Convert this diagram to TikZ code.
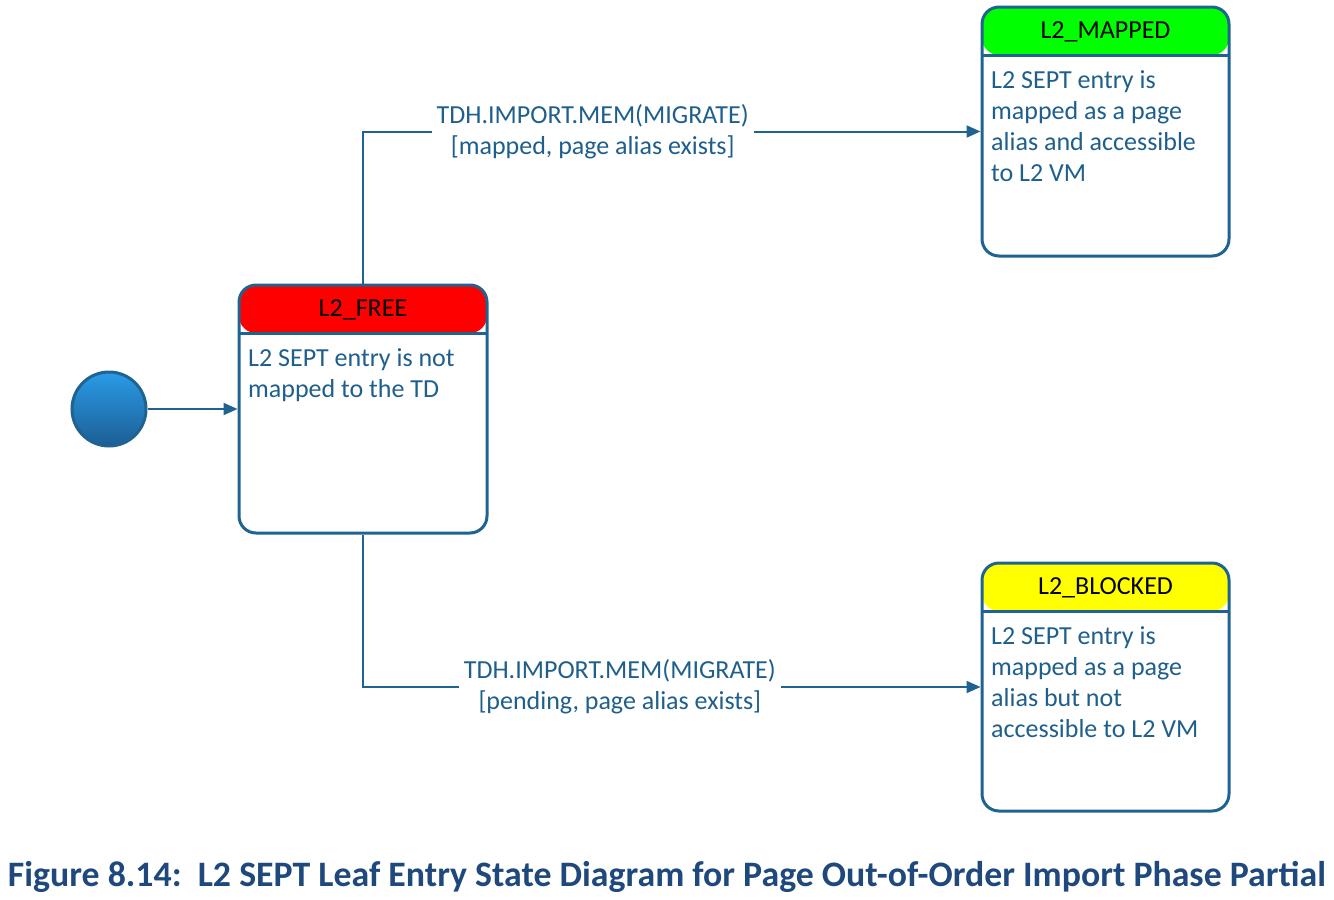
\documentclass[tikz,border=0pt]{standalone}
\usepackage{fontspec}
\setmainfont{Carlito}
\usetikzlibrary{arrows.meta}
\definecolor{lineblue}{HTML}{1F6391}
\definecolor{textblue}{HTML}{1F5F8C}
\definecolor{capblue}{HTML}{1F497D}
\definecolor{hdrred}{HTML}{FF0000}
\definecolor{hdrgreen}{HTML}{00FF00}
\definecolor{hdryellow}{HTML}{FFFF00}
\definecolor{initlight}{HTML}{2A9BE6}
\definecolor{initdark}{HTML}{1C5E95}
\tikzset{
  statebox/.style={draw=lineblue, line width=3pt, rounded corners=17pt, fill=white,
    minimum width=248pt, minimum height=248pt, inner sep=0pt,
    path picture={
      \fill[#1] (path picture bounding box.north west) rectangle ([yshift=-48pt]path picture bounding box.north east);
      \draw[lineblue, line width=3pt] ([yshift=-48pt]path picture bounding box.north west) -- ([yshift=-48pt]path picture bounding box.north east);
    }},
  hdr/.style={font=\fontsize{26}{30}\selectfont, text=black, inner sep=0pt},
  body/.style={font=\fontsize{26}{31}\selectfont, text=textblue, inner sep=0pt, align=left, anchor=north west},
  conn/.style={draw=lineblue, line width=2pt, -{Triangle[length=14pt,width=12pt]}},
  lbl/.style={font=\fontsize{26}{31}\selectfont, text=textblue, fill=white, align=center, inner sep=5pt},
  initstate/.style={circle, draw=lineblue, line width=3pt, minimum size=74pt, inner sep=0pt,
    top color=initlight, bottom color=initdark}
}
\begin{document}
\begin{tikzpicture}[x=1pt, y=-1pt]
\useasboundingbox (0,0) rectangle (1334,900);

\node[initstate] (init) at (109,409) {};

\node[statebox=hdrred] (free) at (363,409) {};
\node[hdr] (freeh) at (363,310) {L2\_FREE};
\node[body] (freeb) at (248,348) {L2 SEPT entry is not\\mapped to the TD};

\node[statebox=hdrgreen, minimum width=247pt, minimum height=249pt] (mapped) at (1105.5,131.5) {};
\node[hdr] (mappedh) at (1105.5,32) {L2\_MAPPED};
\node[body] (mappedb) at (991,70) {L2 SEPT entry is\\mapped as a page\\alias and accessible\\to L2 VM};

\node[statebox=hdryellow, minimum width=247pt] (blocked) at (1105.5,687) {};
\node[hdr] (blockedh) at (1105.5,588) {L2\_BLOCKED};
\node[body] (blockedb) at (991,626) {L2 SEPT entry is\\mapped as a page\\alias but not\\accessible to L2 VM};

\draw[conn] (init.east) -- (free.west);
\draw[conn] (free.north) |- node[lbl, pos=0.686] {TDH.IMPORT.MEM(MIGRATE)\\{}[mapped, page alias exists]} (mapped.west);
\draw[conn] (free.south) |- node[lbl, pos=0.708] {TDH.IMPORT.MEM(MIGRATE)\\{}[pending, page alias exists]} (blocked.west);

\node[font=\bfseries\fontsize{35.8}{40}\selectfont, text=capblue] (cap) at (667,877) {Figure 8.14:\ \ L2 SEPT Leaf Entry State Diagram for Page Out-of-Order Import Phase Partial};
\end{tikzpicture}
\end{document}
